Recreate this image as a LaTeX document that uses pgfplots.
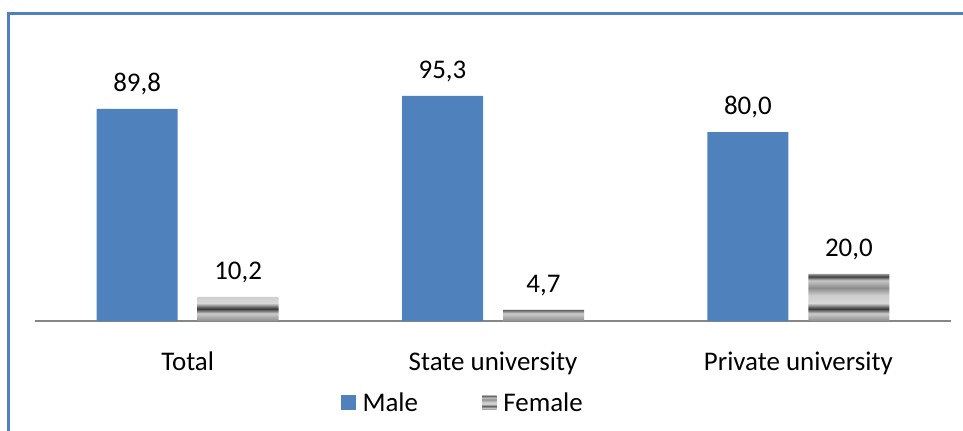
\documentclass[border=0pt]{standalone}
\usepackage{fontspec}
\setmainfont{Carlito}
\usepackage{pgfplots}
\pgfplotsset{compat=1.18}

\definecolor{barblue}{RGB}{79,129,189}
\definecolor{framblue}{RGB}{79,129,189}
\definecolor{axisgray}{RGB}{134,134,134}

% horizontal grey bands for the Female bars (25bp..75bp is stretched over each bar)
\pgfdeclareverticalshading{femstripe}{100bp}{%
  gray(0bp)=(0.55); gray(25bp)=(0.55); gray(33bp)=(0.80); gray(38bp)=(0.22);
  gray(44bp)=(0.85); gray(52.5bp)=(0.80); gray(60bp)=(0.55); gray(68bp)=(0.78);
  gray(72bp)=(0.25); gray(75bp)=(0.62); gray(100bp)=(0.62)}

\newcommand{\chartfont}{\fontsize{20.2pt}{24pt}\selectfont}

\begin{document}
\begin{tikzpicture}
\begin{axis}[
  at={(26.25pt,81.75pt)}, anchor=south west,
  scale only axis, width=687pt, height=212.6pt,
  font=\chartfont,
  ybar=15pt, bar width=60.75pt,
  xmin=-0.5, xmax=2.5, ymin=0, ymax=120,
  axis x line*=bottom, hide y axis,
  x axis line style={axisgray, line width=1.5pt},
  xtick={0,1,2}, xticklabels={Total, State university, Private university},
  major tick length=0pt,
  xticklabel style={anchor=base, yshift=-37pt, inner sep=0pt},
  nodes near coords={\pgfmathprintnumber[fixed,fixed zerofill,precision=1,use comma,assume math mode=true]{\pgfplotspointmeta}},
  every node near coord/.append style={anchor=base, yshift=13.3pt, inner sep=0pt, text=black, font=\chartfont},
  legend columns=2,
  legend style={at={(0.334,0)}, anchor=west, yshift=-61.5pt, draw=none, fill=none,
    inner sep=0pt, nodes={inner sep=0pt, anchor=west},
    /tikz/every odd column/.append style={column sep=5pt},
    /tikz/every even column/.append style={column sep=48pt}},
  legend image code/.code={\path[#1, draw=none] (0pt,-5.2pt) rectangle (11pt,5.8pt);},
]
\addplot[fill=barblue, draw=none] coordinates {(0,89.8) (1,95.3) (2,80.0)};
\addplot[shading=femstripe, draw=none] coordinates {(0,10.2) (1,4.7) (2,20.0)};
\legend{Male, Female}
\end{axis}
\draw[framblue, line width=1.6pt] (6.4pt,-20pt) |- (760pt,312.4pt);
\pgfresetboundingbox
\useasboundingbox (0,0) rectangle (722.25pt,322.5pt);
\end{tikzpicture}
\end{document}
